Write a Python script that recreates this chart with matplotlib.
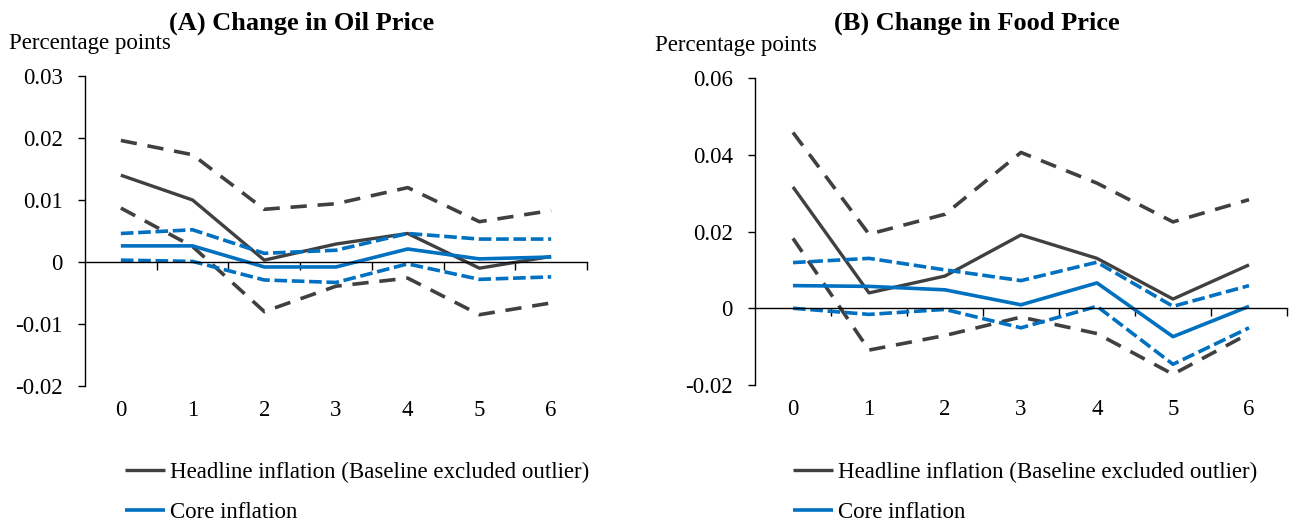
import matplotlib
matplotlib.use("Agg")
import matplotlib.pyplot as plt
from matplotlib import transforms

plt.rcParams['font.family'] = ['Liberation Serif', 'DejaVu Serif']

horizons = [0, 1, 2, 3, 4, 5, 6]
horizon_labels = ['0', '1', '2', '3', '4', '5', '6']

# (A) Oil price shock
oil_headline = [0.0140, 0.0100, 0.0003, 0.0029, 0.0046, -0.0010, 0.0009]
oil_headline_hi = [0.0196, 0.0173, 0.0085, 0.0094, 0.0120, 0.0065, 0.0083]
oil_headline_lo = [0.0087, 0.0025, -0.0080, -0.0039, -0.0026, -0.0085, -0.0066]
oil_core = [0.0026, 0.0026, -0.0008, -0.0008, 0.0021, 0.0005, 0.0008]
oil_core_hi = [0.0046, 0.0052, 0.0014, 0.0019, 0.0046, 0.0037, 0.0037]
oil_core_lo = [0.0003, 0.0001, -0.0029, -0.0033, -0.0003, -0.0028, -0.0024]

# (B) Food price shock
food_headline = [0.0316, 0.0040, 0.0084, 0.0191, 0.0130, 0.0024, 0.0113]
food_headline_hi = [0.0458, 0.0193, 0.0245, 0.0406, 0.0326, 0.0225, 0.0283]
food_headline_lo = [0.0182, -0.0109, -0.0071, -0.0023, -0.0066, -0.0172, -0.0066]
food_core = [0.0059, 0.0057, 0.0048, 0.0009, 0.0066, -0.0074, 0.0005]
food_core_hi = [0.0119, 0.0130, 0.0100, 0.0072, 0.0120, 0.0005, 0.0059]
food_core_lo = [0.0000, -0.0016, -0.0003, -0.0051, 0.0005, -0.0146, -0.0051]

GREY = '#404040'
BLUE = '#0070C0'
FS = 16.5

fig = plt.figure(figsize=(12.95, 5.21), dpi=100)
axA = fig.add_axes([85 / 1295, 1 - 386 / 521, 502 / 1295, 310 / 521])
axB = fig.add_axes([755 / 1295, 1 - 385 / 521, 532 / 1295, 307 / 521])


def draw_panel(ax, head, head_hi, head_lo, core, core_hi, core_lo,
               ylim, yticks, ytick_labels, title, title_x):
    lh, = ax.plot(horizons, head, color=GREY, lw=2.4, solid_capstyle='butt')
    ax.plot(horizons, head_hi, color=GREY, lw=2.6, dashes=(4.5, 3))
    ax.plot(horizons, head_lo, color=GREY, lw=2.6, dashes=(4.5, 3))
    lc, = ax.plot(horizons, core, color=BLUE, lw=2.6, solid_capstyle='butt')
    ax.plot(horizons, core_hi, color=BLUE, lw=2.6, dashes=(3.5, 1.3))
    ax.plot(horizons, core_lo, color=BLUE, lw=2.6, dashes=(3.5, 1.3))

    ax.set_xlim(-0.5, 6.5)
    ax.set_ylim(*ylim)
    ax.set_yticks(yticks)
    ax.set_yticklabels(ytick_labels, fontsize=FS)
    ax.tick_params(axis='y', direction='out', length=5, width=1, pad=11)

    # category boundary ticks on the zero line
    ax.set_xticks([h + 0.5 for h in horizons])
    ax.set_xticklabels([])
    ax.tick_params(axis='x', direction='out', length=6, width=1)
    ax.spines['bottom'].set_position(('data', 0))
    ax.spines['top'].set_visible(False)
    ax.spines['right'].set_visible(False)
    for s in ('left', 'bottom'):
        ax.spines[s].set_linewidth(1)
        ax.spines[s].set_color('black')

    trans = transforms.blended_transform_factory(ax.transData, ax.transAxes)
    for h, lab in zip(horizons, horizon_labels):
        ax.text(h, -0.045, lab, transform=trans, ha='center', va='top',
                fontsize=FS)

    fig.text(title_x, 1 - 23 / 521, title, ha='center', va='center',
             fontsize=19, fontweight='bold')
    return lh, lc


lhA, lcA = draw_panel(axA, oil_headline, oil_headline_hi, oil_headline_lo,
                      oil_core, oil_core_hi, oil_core_lo,
                      (-0.02, 0.03), [-0.02, -0.01, 0, 0.01, 0.02, 0.03],
                      ['-0.02', '-0.01', '0', '0.01', '0.02', '0.03'],
                      '(A) Change in Oil Price', 302 / 1295)
lhB, lcB = draw_panel(axB, food_headline, food_headline_hi, food_headline_lo,
                      food_core, food_core_hi, food_core_lo,
                      (-0.02, 0.06), [-0.02, 0, 0.02, 0.04, 0.06],
                      ['-0.02', '0', '0.02', '0.04', '0.06'],
                      '(B) Change in Food Price', 977 / 1295)

fig.text(9 / 1295, 1 - 44 / 521, 'Percentage points', ha='left',
         va='center', fontsize=FS)
fig.text(655 / 1295, 1 - 46 / 521, 'Percentage points', ha='left',
         va='center', fontsize=FS)

labels = ['Headline inflation (Baseline excluded outlier)', 'Core inflation']
for handles, x0 in (((lhA, lcA), 116 / 1295), ((lhB, lcB), 784 / 1295)):
    fig.legend(handles, labels, loc='upper left',
               bbox_to_anchor=(x0, 1 - 453 / 521), frameon=False,
               fontsize=FS, handlelength=1.75, handletextpad=0.2,
               labelspacing=0.8, borderaxespad=0)

fig.savefig('out.png', dpi=100)
